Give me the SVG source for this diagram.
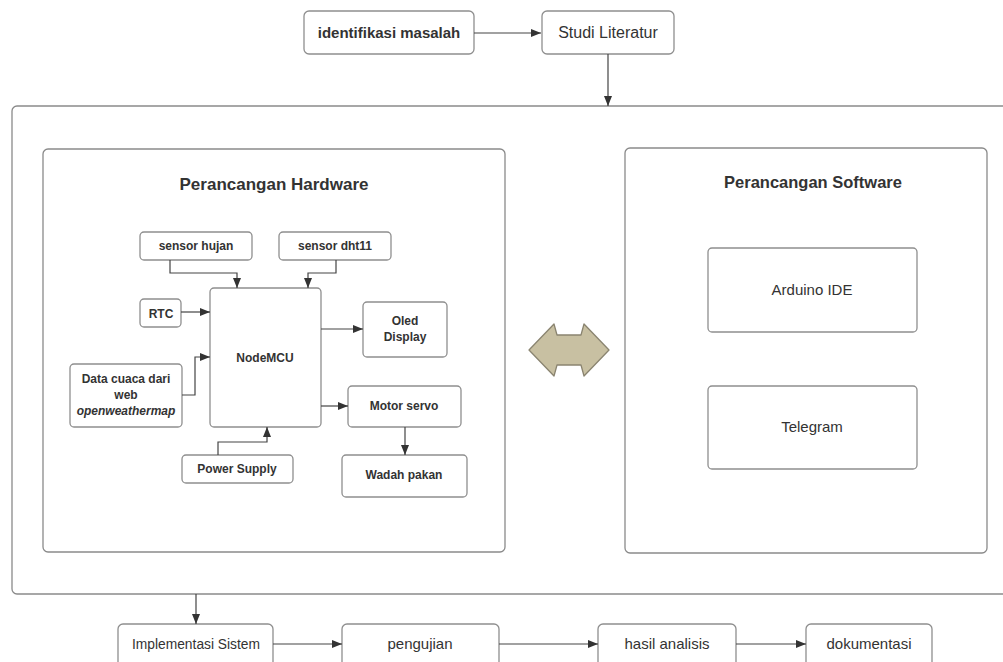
<svg xmlns="http://www.w3.org/2000/svg" width="1003" height="662" viewBox="0 0 1003 662">
<style>
.box{fill:#fff;stroke:#8f8f8f;stroke-width:1.3}
.big{fill:#fff;stroke:#8a8a8a;stroke-width:1.3}
.t{font-family:"Liberation Sans",Arial,sans-serif;fill:#333;text-anchor:middle}
.b{font-weight:bold}
.s12{font-size:12px}
.s15{font-size:15px}
.c{fill:none;stroke:#444;stroke-width:1.2}
</style>
<defs>
<marker id="ah" viewBox="0 0 10 8" refX="10" refY="4" markerWidth="10" markerHeight="8" markerUnits="userSpaceOnUse" orient="auto">
<path d="M0,0 L10,4 L0,8 z" fill="#333"/>
</marker>
</defs>
<rect width="1003" height="662" fill="#fff"/>

<g id="outer"><rect class="big" x="12" y="106" width="1000" height="488" rx="5"/></g>

<g id="identifikasi"><rect class="box" x="304" y="11" width="170" height="43" rx="5"/><text class="t b s15" x="389" y="38">identifikasi masalah</text></g>
<g id="studi"><rect class="box" x="542" y="11" width="132" height="43" rx="5"/><text class="t" style="font-size:16px" x="608" y="38">Studi Literatur</text></g>

<g id="hardware"><rect class="big" x="43" y="149" width="462" height="403" rx="5"/><text class="t b" style="font-size:17px" x="274" y="190">Perancangan Hardware</text></g>
<g id="software"><rect class="big" x="625" y="148" width="362" height="405" rx="5"/><text class="t b" style="font-size:16.5px" x="813" y="188">Perancangan Software</text></g>

<g id="arduino"><rect class="box" x="708" y="248" width="209" height="84" rx="4"/><text class="t s15" x="812" y="295">Arduino IDE</text></g>
<g id="telegram"><rect class="box" x="708" y="386" width="209" height="83" rx="4"/><text class="t s15" x="812" y="432">Telegram</text></g>

<g id="sensorhujan"><rect class="box" x="140" y="232" width="112" height="28" rx="4"/><text class="t b s12" x="196" y="250">sensor hujan</text></g>
<g id="sensordht11"><rect class="box" x="279" y="232" width="112" height="28" rx="4"/><text class="t b s12" x="335" y="250">sensor dht11</text></g>
<g id="nodemcu"><rect class="box" x="210" y="288" width="111" height="139" rx="4"/><text class="t b s12" x="265" y="362">NodeMCU</text></g>
<g id="rtc"><rect class="box" x="140" y="299" width="41" height="28" rx="4"/><text class="t b s12" x="161" y="318">RTC</text></g>
<g id="datacuaca"><rect class="box" x="70" y="364" width="112" height="63" rx="4"/><text class="t b s12" x="126" y="383">Data cuaca dari</text><text class="t b s12" x="126" y="399">web</text><text class="t b s12" x="126" y="415" font-style="italic">openweathermap</text></g>
<g id="powersupply"><rect class="box" x="182" y="455" width="111" height="28" rx="4"/><text class="t b s12" x="237" y="473">Power Supply</text></g>
<g id="oled"><rect class="box" x="363" y="302" width="84" height="55" rx="4"/><text class="t b s12" x="405" y="325">Oled</text><text class="t b s12" x="405" y="341">Display</text></g>
<g id="motorservo"><rect class="box" x="348" y="386" width="113" height="41" rx="4"/><text class="t b s12" x="404" y="410">Motor servo</text></g>
<g id="wadahpakan"><rect class="box" x="342" y="455" width="125" height="42" rx="4"/><text class="t b s12" x="404" y="479">Wadah pakan</text></g>

<g id="biarrow"><path d="M529,350 L554,324 L557,335 L581,335 L584,324 L609,350 L584,376 L581,365 L557,365 L554,376 Z" fill="#c8c0a2" stroke="#8a8470" stroke-width="1.3" stroke-linejoin="round"/></g>

<g id="implementasi"><rect class="box" x="118" y="624" width="155" height="50" rx="5"/><text class="t" style="font-size:13.8px" x="196" y="649">Implementasi Sistem</text></g>
<g id="pengujian"><rect class="box" x="342" y="624" width="157" height="50" rx="5"/><text class="t s15" x="420" y="649">pengujian</text></g>
<g id="hasil"><rect class="box" x="598" y="624" width="138" height="50" rx="5"/><text class="t s15" x="667" y="649">hasil analisis</text></g>
<g id="dokumentasi"><rect class="box" x="806" y="624" width="126" height="50" rx="5"/><text class="t s15" x="869" y="649">dokumentasi</text></g>

<g id="connectors">
<path class="c" d="M474,33 L541,33" marker-end="url(#ah)"/>
<path class="c" d="M608,54 L608,106" marker-end="url(#ah)"/>
<path class="c" d="M170,260 L170,273 L237,273 L237,288" marker-end="url(#ah)"/>
<path class="c" d="M336,260 L336,273 L308,273 L308,288" marker-end="url(#ah)"/>
<path class="c" d="M181,312 L210,312" marker-end="url(#ah)"/>
<path class="c" d="M182,395 L195,395 L195,357 L210,357" marker-end="url(#ah)"/>
<path class="c" d="M218,455 L218,442 L267,442 L267,427" marker-end="url(#ah)"/>
<path class="c" d="M321,329 L363,329" marker-end="url(#ah)"/>
<path class="c" d="M321,406 L348,406" marker-end="url(#ah)"/>
<path class="c" d="M405,427 L405,455" marker-end="url(#ah)"/>
<path class="c" d="M196,594 L196,624" marker-end="url(#ah)"/>
<path class="c" d="M273,644 L342,644" marker-end="url(#ah)"/>
<path class="c" d="M499,644 L598,644" marker-end="url(#ah)"/>
<path class="c" d="M736,644 L806,644" marker-end="url(#ah)"/>
</g>
</svg>
